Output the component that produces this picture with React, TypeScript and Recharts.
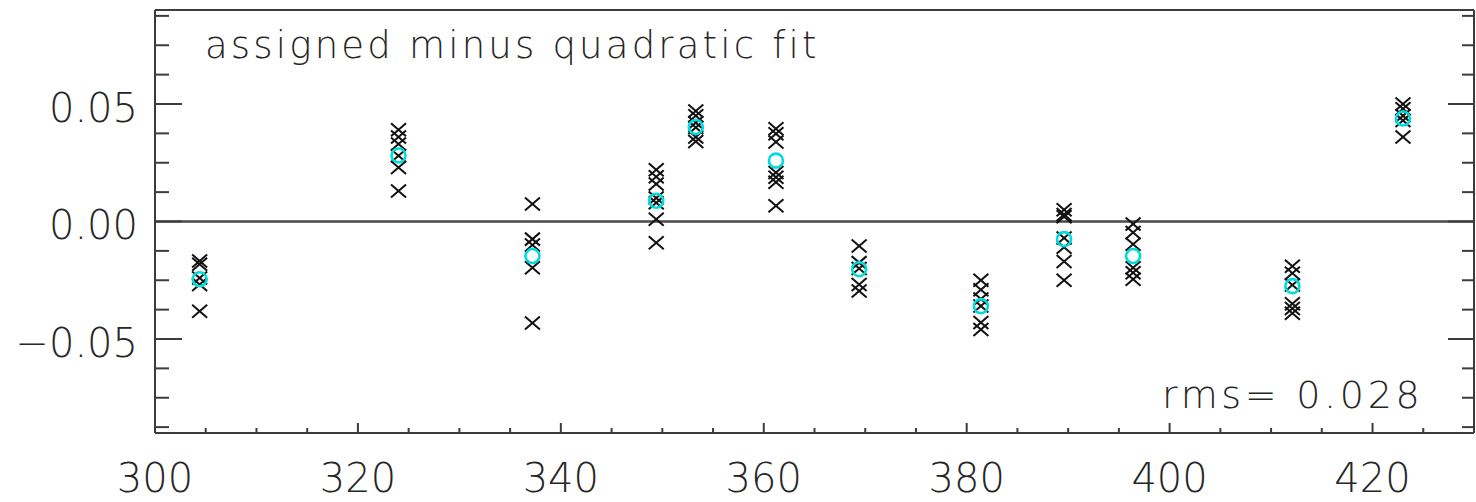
import React from "react";
import { ScatterChart, Scatter, XAxis, YAxis, ReferenceLine } from "recharts";

// ---------------- data ----------------
const wavelengths = [304.4, 324.0, 337.2, 349.4, 353.3, 361.2, 369.4, 381.4, 389.6, 396.4, 412.1, 423.0];

const residualsAt3044 = [-0.0168, -0.0182, -0.024, -0.0268, -0.0382];
const residualsAt3240 = [0.039, 0.036, 0.033, 0.028, 0.023, 0.013];
const residualsAt3372 = [0.0074, -0.0075, -0.01, -0.0197, -0.0432];
const residualsAt3494 = [0.022, 0.019, 0.016, 0.01, 0.008, 0.001, -0.009];
const residualsAt3533 = [0.047, 0.045, 0.042, 0.04, 0.036, 0.034];
const residualsAt3612 = [0.0395, 0.0373, 0.0338, 0.0209, 0.0188, 0.0167, 0.0067];
const residualsAt3694 = [-0.0104, -0.0175, -0.02, -0.0268, -0.0296];
const residualsAt3814 = [-0.025, -0.029, -0.033, -0.036, -0.043, -0.046];
const residualsAt3896 = [0.005, 0.003, 0.002, -0.007, -0.011, -0.017, -0.025];
const residualsAt3964 = [-0.0011, -0.0047, -0.0097, -0.0197, -0.0218, -0.0246];
const residualsAt4121 = [-0.019, -0.022, -0.027, -0.035, -0.037, -0.039];
const residualsAt4230 = [0.05, 0.048, 0.045, 0.043, 0.036];

const residualColumns = [
  residualsAt3044, residualsAt3240, residualsAt3372, residualsAt3494,
  residualsAt3533, residualsAt3612, residualsAt3694, residualsAt3814,
  residualsAt3896, residualsAt3964, residualsAt4121, residualsAt4230,
];

const columnMeans = [-0.0246, 0.0281, -0.0147, 0.0088, 0.0402, 0.0259, -0.0203, -0.036, -0.0075, -0.0147, -0.0275, 0.0438];

const xMajorTicks = [300, 320, 340, 360, 380, 400, 420];
const xMinorTicks = [305, 310, 315, 325, 330, 335, 345, 350, 355, 365, 370, 375, 385, 390, 395, 405, 410, 415, 425];
const yMajorTicks = [-0.05, 0, 0.05];
const yMinorTicks = [-0.0875, -0.075, -0.0625, -0.0375, -0.025, -0.0125, 0.0125, 0.025, 0.0375, 0.0625, 0.075, 0.0875];

const xDomain = [300, 430];
const yDomain = [-0.09, 0.09];

const titleText = "assigned minus quadratic fit";
const rmsText = "rms= 0.028";

// ---------------- styling ----------------
const W = 1476;
const H = 502;
const FONT = '"DejaVu Sans", "Liberation Sans", sans-serif';
const INK = "#262626";
const AXIS = "#3c3c3c";
const CYAN = "#00dcdc";

// ---------------- derived ----------------
const crossPoints = wavelengths.flatMap((w, i) => residualColumns[i].map((r) => ({ x: w, y: r })));
const meanPoints = wavelengths.map((w, i) => ({ x: w, y: columnMeans[i] }));
const xAllTicks = [...xMajorTicks, ...xMinorTicks].sort((a, b) => a - b);
const yAllTicks = [...yMajorTicks, ...yMinorTicks].sort((a, b) => a - b);

const isMajor = (v: number, majors: number[]) => majors.some((m) => Math.abs(m - v) < 1e-9);

const fmtY = (v: number) => {
  const s = Math.abs(v).toFixed(2);
  return v < -1e-9 ? "\u2212" + s : s;
};

const textStyle = { fontFamily: FONT, fontWeight: 200 as const, fill: INK };

const BottomTick = (props: any) => {
  const { x, y, payload } = props;
  const major = isMajor(payload.value, xMajorTicks);
  return (
    <g>
      <line x1={x} x2={x} y1={y} y2={y - (major ? 10 : 5)} stroke={AXIS} strokeWidth={2} />
      {major && (
        <text x={x} y={y + 59} textAnchor="middle" fontSize={40} {...textStyle}>
          {payload.value}
        </text>
      )}
    </g>
  );
};

const TopTick = (props: any) => {
  const { x, y, payload } = props;
  const major = isMajor(payload.value, xMajorTicks);
  return <line x1={x} x2={x} y1={y} y2={y + (major ? 9 : 5)} stroke={AXIS} strokeWidth={2} />;
};

const LeftTick = (props: any) => {
  const { x, y, payload } = props;
  const major = isMajor(payload.value, yMajorTicks);
  return (
    <g>
      <line x1={x} x2={x + (major ? 27 : 14)} y1={y} y2={y} stroke={AXIS} strokeWidth={2} />
      {major && (
        <text x={x - 17} y={y + 17.5} textAnchor="end" fontSize={40} {...textStyle}>
          {fmtY(payload.value)}
        </text>
      )}
    </g>
  );
};

const RightTick = (props: any) => {
  const { x, y, payload } = props;
  const major = isMajor(payload.value, yMajorTicks);
  return <line x1={x} x2={x - (major ? 26 : 12)} y1={y} y2={y} stroke={AXIS} strokeWidth={2} />;
};

const Cross = (props: any) => {
  const { cx, cy } = props;
  if (cx == null || cy == null) return <g />;
  const hw = 7.5;
  const hh = 6.5;
  return (
    <g>
      <line x1={cx - hw} y1={cy - hh} x2={cx + hw} y2={cy + hh} stroke="#111" strokeWidth={2} />
      <line x1={cx - hw} y1={cy + hh} x2={cx + hw} y2={cy - hh} stroke="#111" strokeWidth={2} />
    </g>
  );
};

const Ring = (props: any) => {
  const { cx, cy } = props;
  if (cx == null || cy == null) return <g />;
  return <circle cx={cx} cy={cy} r={7} fill="none" stroke={CYAN} strokeWidth={2.6} />;
};

export default function App() {
  return (
    <div style={{ position: "absolute", left: 0, top: 0, width: W, height: H, background: "#fff" }}>
      <ScatterChart width={W} height={H} margin={{ top: 9, right: 1, bottom: 0, left: 0 }}>
        <XAxis
          xAxisId="top"
          orientation="top"
          type="number"
          domain={xDomain}
          allowDataOverflow
          ticks={xAllTicks}
          interval={0}
          height={1}
          tickSize={0}
          tickMargin={0}
          tickLine={false}
          tick={<TopTick />}
          axisLine={{ stroke: AXIS, strokeWidth: 2 }}
        />
        <YAxis
          yAxisId="right"
          orientation="right"
          type="number"
          domain={yDomain}
          allowDataOverflow
          ticks={yAllTicks}
          interval={0}
          width={1}
          tickSize={0}
          tickMargin={0}
          tickLine={false}
          tick={<RightTick />}
          axisLine={{ stroke: AXIS, strokeWidth: 2 }}
        />
        <XAxis
          xAxisId="b"
          dataKey="x"
          orientation="bottom"
          type="number"
          domain={xDomain}
          allowDataOverflow
          ticks={xAllTicks}
          interval={0}
          height={69}
          tickSize={0}
          tickMargin={0}
          tickLine={false}
          tick={<BottomTick />}
          axisLine={{ stroke: AXIS, strokeWidth: 2 }}
        />
        <YAxis
          yAxisId="l"
          dataKey="y"
          orientation="left"
          type="number"
          domain={yDomain}
          allowDataOverflow
          ticks={yAllTicks}
          interval={0}
          width={155}
          tickSize={0}
          tickMargin={0}
          tickLine={false}
          tick={<LeftTick />}
          axisLine={{ stroke: AXIS, strokeWidth: 2 }}
        />
        <ReferenceLine xAxisId="b" yAxisId="l" y={0} stroke="#4a4a4a" strokeWidth={2.5} />
        <Scatter
          xAxisId="b"
          yAxisId="l"
          data={crossPoints}
          shape={<Cross />}
          isAnimationActive={false}
        />
        <Scatter
          xAxisId="b"
          yAxisId="l"
          data={meanPoints}
          shape={<Ring />}
          isAnimationActive={false}
        />
      </ScatterChart>
      <svg
        width={W}
        height={H}
        style={{ position: "absolute", left: 0, top: 0, pointerEvents: "none" }}
      >
        <text x={205} y={58} fontSize={37} letterSpacing={3.2} {...textStyle}>
          {titleText}
        </text>
        <text x={1162} y={408} fontSize={38} letterSpacing={3.7} {...textStyle}>
          {rmsText}
        </text>
      </svg>
    </div>
  );
}
